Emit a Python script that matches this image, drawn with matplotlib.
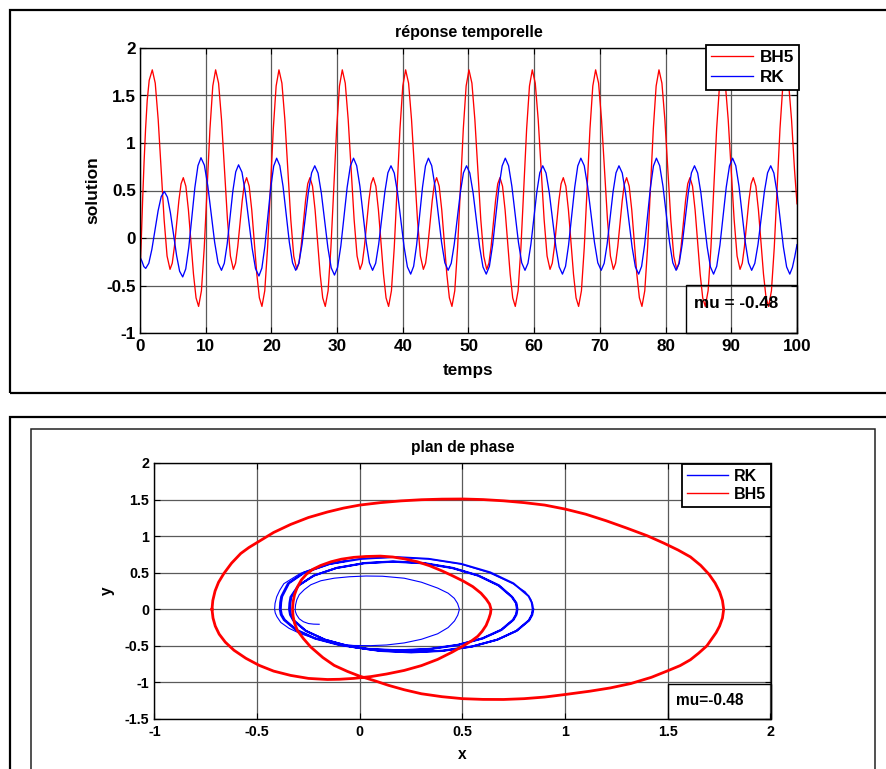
import matplotlib
matplotlib.use("Agg")
import matplotlib.pyplot as plt
from matplotlib.lines import Line2D
from matplotlib.patches import Rectangle

plt.rcParams['font.family'] = ['Liberation Sans', 'DejaVu Sans']
plt.rcParams['font.weight'] = 'bold'
plt.rcParams['axes.unicode_minus'] = False

# ---------------------------------------------------------------- data
series_top = ['BH5', 'RK']
series_bottom = ['RK', 'BH5']
mu_label_top = 'mu = -0.48'
mu_label_bottom = 'mu=-0.48'

time_ticks = [0, 10, 20, 30, 40, 50, 60, 70, 80, 90, 100]
time_tick_labels = ['0', '10', '20', '30', '40', '50', '60', '70', '80', '90', '100']
sol_ticks = [-1, -0.5, 0, 0.5, 1, 1.5, 2]
sol_tick_labels = ['-1', '-0.5', '0', '0.5', '1', '1.5', '2']
px_ticks = [-1, -0.5, 0, 0.5, 1, 1.5, 2]
px_tick_labels = ['-1', '-0.5', '0', '0.5', '1', '1.5', '2']
py_ticks = [-1.5, -1, -0.5, 0, 0.5, 1, 1.5, 2]
py_tick_labels = ['-1.5', '-1', '-0.5', '0', '0.5', '1', '1.5', '2']

# time response, BH5 scheme
bh5_t = [
    0.00, 0.18, 0.40, 0.62, 0.85, 1.10, 1.40,
    1.87, 2.32, 2.77, 3.22, 3.67, 4.12, 4.57, 4.91, 5.24, 5.58, 5.92, 6.25,
    6.59, 6.98, 7.37, 7.76, 8.14, 8.53, 8.92, 9.35, 9.78, 10.22, 10.65, 11.08,
    11.51, 11.96, 12.41, 12.86, 13.31, 13.76, 14.21, 14.55, 14.88, 15.22, 15.56, 15.89,
    16.23, 16.62, 17.01, 17.40, 17.78, 18.17, 18.56, 18.99, 19.42, 19.86, 20.29, 20.72,
    21.15, 21.60, 22.05, 22.50, 22.95, 23.40, 23.85, 24.19, 24.52, 24.86, 25.20, 25.53,
    25.87, 26.26, 26.65, 27.04, 27.42, 27.81, 28.20, 28.63, 29.06, 29.50, 29.93, 30.36,
    30.79, 31.24, 31.69, 32.14, 32.59, 33.04, 33.49, 33.83, 34.16, 34.50, 34.84, 35.17,
    35.51, 35.90, 36.29, 36.68, 37.06, 37.45, 37.84, 38.27, 38.70, 39.14, 39.57, 40.00,
    40.43, 40.88, 41.33, 41.78, 42.23, 42.68, 43.13, 43.47, 43.80, 44.14, 44.48, 44.81,
    45.15, 45.54, 45.93, 46.32, 46.70, 47.09, 47.48, 47.91, 48.34, 48.78, 49.21, 49.64,
    50.07, 50.52, 50.97, 51.42, 51.87, 52.32, 52.77, 53.11, 53.44, 53.78, 54.12, 54.45,
    54.79, 55.18, 55.57, 55.96, 56.34, 56.73, 57.12, 57.55, 57.98, 58.42, 58.85, 59.28,
    59.71, 60.16, 60.61, 61.06, 61.51, 61.96, 62.41, 62.75, 63.08, 63.42, 63.76, 64.09,
    64.43, 64.82, 65.21, 65.60, 65.98, 66.37, 66.76, 67.19, 67.62, 68.06, 68.49, 68.92,
    69.35, 69.80, 70.25, 70.70, 71.15, 71.60, 72.05, 72.39, 72.72, 73.06, 73.40, 73.73,
    74.07, 74.46, 74.85, 75.24, 75.62, 76.01, 76.40, 76.83, 77.26, 77.70, 78.13, 78.56,
    78.99, 79.44, 79.89, 80.34, 80.79, 81.24, 81.69, 82.03, 82.36, 82.70, 83.04, 83.37,
    83.71, 84.10, 84.49, 84.88, 85.26, 85.65, 86.04, 86.47, 86.90, 87.34, 87.77, 88.20,
    88.63, 89.08, 89.53, 89.98, 90.43, 90.88, 91.33, 91.67, 92.00, 92.34, 92.68, 93.01,
    93.35, 93.74, 94.13, 94.52, 94.90, 95.29, 95.68, 96.11, 96.54, 96.98, 97.41, 97.84,
    98.27, 98.72, 99.17, 99.62, 100.00,
]
bh5_x = [
    -0.35, -0.05, 0.40, 0.80, 1.15, 1.45, 1.66,
    1.77, 1.63, 1.245, 0.72, 0.195, -0.19, -0.33, -0.265, -0.09, 0.15, 0.395, 0.57,
    0.635, 0.545, 0.295, -0.04, -0.38, -0.63, -0.72, -0.555, -0.10, 0.525, 1.15, 1.60,
    1.77, 1.63, 1.245, 0.72, 0.195, -0.19, -0.33, -0.265, -0.09, 0.15, 0.395, 0.57,
    0.635, 0.545, 0.295, -0.04, -0.38, -0.63, -0.72, -0.555, -0.10, 0.525, 1.15, 1.60,
    1.77, 1.63, 1.245, 0.72, 0.195, -0.19, -0.33, -0.265, -0.09, 0.15, 0.395, 0.57,
    0.635, 0.545, 0.295, -0.04, -0.38, -0.63, -0.72, -0.555, -0.10, 0.525, 1.15, 1.60,
    1.77, 1.63, 1.245, 0.72, 0.195, -0.19, -0.33, -0.265, -0.09, 0.15, 0.395, 0.57,
    0.635, 0.545, 0.295, -0.04, -0.38, -0.63, -0.72, -0.555, -0.10, 0.525, 1.15, 1.60,
    1.77, 1.63, 1.245, 0.72, 0.195, -0.19, -0.33, -0.265, -0.09, 0.15, 0.395, 0.57,
    0.635, 0.545, 0.295, -0.04, -0.38, -0.63, -0.72, -0.555, -0.10, 0.525, 1.15, 1.60,
    1.77, 1.63, 1.245, 0.72, 0.195, -0.19, -0.33, -0.265, -0.09, 0.15, 0.395, 0.57,
    0.635, 0.545, 0.295, -0.04, -0.38, -0.63, -0.72, -0.555, -0.10, 0.525, 1.15, 1.60,
    1.77, 1.63, 1.245, 0.72, 0.195, -0.19, -0.33, -0.265, -0.09, 0.15, 0.395, 0.57,
    0.635, 0.545, 0.295, -0.04, -0.38, -0.63, -0.72, -0.555, -0.10, 0.525, 1.15, 1.60,
    1.77, 1.63, 1.245, 0.72, 0.195, -0.19, -0.33, -0.265, -0.09, 0.15, 0.395, 0.57,
    0.635, 0.545, 0.295, -0.04, -0.38, -0.63, -0.72, -0.555, -0.10, 0.525, 1.15, 1.60,
    1.77, 1.63, 1.245, 0.72, 0.195, -0.19, -0.33, -0.265, -0.09, 0.15, 0.395, 0.57,
    0.635, 0.545, 0.295, -0.04, -0.38, -0.63, -0.72, -0.555, -0.10, 0.525, 1.15, 1.60,
    1.77, 1.63, 1.245, 0.72, 0.195, -0.19, -0.33, -0.265, -0.09, 0.15, 0.395, 0.57,
    0.635, 0.545, 0.295, -0.04, -0.38, -0.63, -0.72, -0.555, -0.10, 0.525, 1.15, 1.60,
    1.77, 1.63, 1.245, 0.72, 0.36,
]

# time response, RK scheme
rk_t = [
    0.00, 0.30, 0.58, 0.87,
    1.34, 1.81, 2.29, 2.76, 3.23, 3.70,
    4.17, 4.63, 5.10, 5.57, 6.03, 6.50,
    6.96, 7.43, 7.89, 8.35, 8.82, 9.28,
    9.80, 10.32, 10.84, 11.36, 11.88, 12.40,
    12.83, 13.27, 13.70, 14.13, 14.57, 15.00,
    15.52, 16.03, 16.55, 17.07, 17.58, 18.10,
    18.55, 19.00, 19.45, 19.90, 20.35, 20.80,
    21.28, 21.77, 22.25, 22.73, 23.22, 23.70,
    24.18, 24.67, 25.15, 25.63, 26.12, 26.60,
    27.10, 27.60, 28.10, 28.60, 29.10, 29.60,
    30.08, 30.57, 31.05, 31.53, 32.02, 32.50,
    32.98, 33.47, 33.95, 34.43, 34.92, 35.40,
    35.87, 36.33, 36.80, 37.27, 37.73, 38.20,
    38.70, 39.20, 39.70, 40.20, 40.70, 41.20,
    41.65, 42.10, 42.55, 43.00, 43.45, 43.90,
    44.40, 44.90, 45.40, 45.90, 46.40, 46.90,
    47.37, 47.83, 48.30, 48.77, 49.23, 49.70,
    50.20, 50.70, 51.20, 51.70, 52.20, 52.70,
    53.18, 53.67, 54.15, 54.63, 55.12, 55.60,
    56.10, 56.60, 57.10, 57.60, 58.10, 58.60,
    59.05, 59.50, 59.95, 60.40, 60.85, 61.30,
    61.80, 62.30, 62.80, 63.30, 63.80, 64.30,
    64.77, 65.23, 65.70, 66.17, 66.63, 67.10,
    67.62, 68.13, 68.65, 69.17, 69.68, 70.20,
    70.65, 71.10, 71.55, 72.00, 72.45, 72.90,
    73.40, 73.90, 74.40, 74.90, 75.40, 75.90,
    76.35, 76.80, 77.25, 77.70, 78.15, 78.60,
    79.10, 79.60, 80.10, 80.60, 81.10, 81.60,
    82.07, 82.53, 83.00, 83.47, 83.93, 84.40,
    84.88, 85.37, 85.85, 86.33, 86.82, 87.30,
    87.78, 88.27, 88.75, 89.23, 89.72, 90.20,
    90.68, 91.17, 91.65, 92.13, 92.62, 93.10,
    93.58, 94.07, 94.55, 95.03, 95.52, 96.00,
    96.48, 96.97, 97.45, 97.93, 98.42, 98.90,
    99.30, 99.65, 100.00,
]
rk_x = [
    -0.20, -0.245, -0.30, -0.32,
    -0.266, -0.118, 0.085, 0.288, 0.436, 0.49,
    0.430, 0.265, 0.04, -0.185, -0.350, -0.41,
    -0.326, -0.096, 0.218, 0.531, 0.761, 0.845,
    0.766, 0.549, 0.253, -0.044, -0.261, -0.34,
    -0.266, -0.063, 0.215, 0.493, 0.696, 0.77,
    0.692, 0.478, 0.185, -0.108, -0.322, -0.40,
    -0.317, -0.09, 0.22, 0.53, 0.757, 0.84,
    0.761, 0.545, 0.25, -0.045, -0.261, -0.34,
    -0.266, -0.065, 0.21, 0.485, 0.686, 0.76,
    0.683, 0.473, 0.185, -0.103, -0.313, -0.39,
    -0.308, -0.083, 0.225, 0.533, 0.758, 0.84,
    0.761, 0.545, 0.25, -0.045, -0.261, -0.34,
    -0.266, -0.065, 0.21, 0.485, 0.686, 0.76,
    0.684, 0.475, 0.19, -0.095, -0.304, -0.38,
    -0.298, -0.075, 0.23, 0.535, 0.758, 0.84,
    0.761, 0.545, 0.25, -0.045, -0.261, -0.34,
    -0.266, -0.065, 0.21, 0.485, 0.686, 0.76,
    0.684, 0.475, 0.19, -0.095, -0.304, -0.38,
    -0.298, -0.075, 0.23, 0.535, 0.758, 0.84,
    0.761, 0.545, 0.25, -0.045, -0.261, -0.34,
    -0.266, -0.065, 0.21, 0.485, 0.686, 0.76,
    0.684, 0.475, 0.19, -0.095, -0.304, -0.38,
    -0.298, -0.075, 0.23, 0.535, 0.758, 0.84,
    0.761, 0.545, 0.25, -0.045, -0.261, -0.34,
    -0.266, -0.065, 0.21, 0.485, 0.686, 0.76,
    0.684, 0.475, 0.19, -0.095, -0.304, -0.38,
    -0.298, -0.075, 0.23, 0.535, 0.758, 0.84,
    0.761, 0.545, 0.25, -0.045, -0.261, -0.34,
    -0.266, -0.065, 0.21, 0.485, 0.686, 0.76,
    0.684, 0.475, 0.19, -0.095, -0.304, -0.38,
    -0.298, -0.075, 0.23, 0.535, 0.758, 0.84,
    0.761, 0.545, 0.25, -0.045, -0.261, -0.34,
    -0.266, -0.065, 0.21, 0.485, 0.686, 0.76,
    0.684, 0.475, 0.19, -0.095, -0.304, -0.38,
    -0.31, -0.20, -0.07,
]

# phase plane, BH5 closed orbit (x, y)
bh5_px = [
    -0.72, -0.716, -0.705, -0.688, -0.662, -0.625, -0.58, -0.54, -0.496, -0.42,
    -0.337, -0.25, -0.158, -0.08, 0.0, 0.1, 0.2, 0.3, 0.4, 0.504,
    0.6, 0.70, 0.80, 0.90, 1.00, 1.10, 1.20, 1.30, 1.40, 1.48,
    1.55, 1.61, 1.66, 1.70, 1.73, 1.752, 1.766,
    1.772, 1.766, 1.752, 1.735, 1.71, 1.69, 1.65, 1.61, 1.56, 1.50,
    1.42, 1.32, 1.22, 1.12, 1.00, 0.90, 0.80, 0.70, 0.60, 0.50,
    0.40, 0.30, 0.216, 0.14, 0.07, 0.0, -0.06, -0.125, -0.18, -0.239,
    -0.275, -0.304, -0.318, -0.325,
    -0.328, -0.325, -0.318, -0.305, -0.285, -0.26, -0.23, -0.19, -0.14, -0.09,
    -0.03, 0.03, 0.10, 0.16, 0.216, 0.28, 0.34, 0.40, 0.45, 0.504,
    0.55, 0.59, 0.615, 0.632,
    0.639, 0.636, 0.628, 0.615, 0.596, 0.574, 0.545, 0.504, 0.45, 0.379,
    0.30, 0.216, 0.13, 0.054, -0.03, -0.10, -0.158, -0.25, -0.337, -0.42,
    -0.49, -0.555, -0.613, -0.655, -0.685, -0.704, -0.715, -0.72,
]
bh5_py = [
    0.0, 0.12, 0.25, 0.37, 0.49, 0.63, 0.763, 0.845, 0.92, 1.05,
    1.16, 1.255, 1.33, 1.383, 1.425, 1.458, 1.482, 1.498, 1.506, 1.508,
    1.50, 1.483, 1.458, 1.425, 1.37, 1.30, 1.21, 1.11, 1.005, 0.905,
    0.81, 0.716, 0.60, 0.48, 0.36, 0.24, 0.12,
    0.0, -0.12, -0.23, -0.32, -0.42, -0.50, -0.60, -0.69, -0.77, -0.84,
    -0.93, -1.015, -1.075, -1.12, -1.165, -1.20, -1.222, -1.233, -1.232, -1.222,
    -1.195, -1.155, -1.10, -1.04, -0.975, -0.915, -0.85, -0.767, -0.66, -0.516,
    -0.40, -0.29, -0.19, -0.095,
    0.0, 0.10, 0.20, 0.30, 0.40, 0.48, 0.545, 0.60, 0.65, 0.685,
    0.71, 0.722, 0.727, 0.715, 0.69, 0.65, 0.595, 0.525, 0.46, 0.385,
    0.31, 0.22, 0.14, 0.07,
    0.0, -0.06, -0.13, -0.22, -0.30, -0.37, -0.43, -0.50, -0.585, -0.685,
    -0.77, -0.836, -0.885, -0.92, -0.945, -0.957, -0.96, -0.945, -0.904, -0.845,
    -0.767, -0.67, -0.56, -0.45, -0.34, -0.23, -0.12, 0.0,
]

# phase plane, RK start-up transient (x, y)
rk_start_px = [
    -0.198, -0.225, -0.25, -0.275, -0.295, -0.308, -0.314, -0.315, -0.313, -0.307,
    -0.295, -0.27, -0.239, -0.19, -0.125, -0.05, 0.03, 0.11, 0.216, 0.30,
    0.379, 0.43, 0.46, 0.476, 0.485, 0.477, 0.461, 0.43, 0.379, 0.30,
    0.216, 0.13, 0.054, -0.03, -0.11, -0.20, -0.288, -0.345, -0.385, -0.404,
    -0.412, -0.415, -0.413, -0.405, -0.39, -0.37, -0.29, -0.16, 0.0, 0.16,
    0.33, 0.49, 0.63, 0.745, 0.805, 0.832, 0.842, 0.845,
]
rk_start_py = [
    -0.205, -0.203, -0.195, -0.17, -0.13, -0.075, -0.03, 0.0, 0.06, 0.13,
    0.20, 0.27, 0.335, 0.39, 0.425, 0.445, 0.455, 0.452, 0.425, 0.37,
    0.29, 0.22, 0.15, 0.08, 0.0, -0.08, -0.16, -0.25, -0.335, -0.41,
    -0.46, -0.488, -0.497, -0.495, -0.47, -0.415, -0.335, -0.26, -0.18, -0.10,
    -0.05, 0.0, 0.08, 0.17, 0.26, 0.35, 0.49, 0.625, 0.69, 0.71,
    0.69, 0.62, 0.50, 0.35, 0.24, 0.14, 0.07, 0.0,
]

# phase plane, RK settled two-loop cycle (x, y)
rk_cycle_px = [
    0.845, 0.840, 0.825, 0.765, 0.671, 0.548, 0.404, 0.25, 0.096, -0.048,
    -0.171, -0.265, -0.325, -0.340, -0.345,
    -0.343, -0.338, -0.30, -0.225, -0.115, 0.02, 0.16, 0.31, 0.45, 0.575,
    0.675, 0.74, 0.760, 0.765,
    0.760, 0.745, 0.688, 0.597, 0.478, 0.339, 0.19, 0.041, -0.098, -0.217,
    -0.308, -0.365, -0.380, -0.385,
    -0.383, -0.378, -0.345, -0.27, -0.145, 0.01, 0.17, 0.335, 0.495, 0.635,
    0.748, 0.822, 0.837, 0.842,
    0.837, 0.822, 0.762, 0.668, 0.545, 0.402, 0.25, 0.097, -0.045, -0.168,
    -0.262, -0.32, -0.335, -0.34,
    -0.338, -0.333, -0.296, -0.222, -0.112, 0.023, 0.163, 0.312, 0.452, 0.577,
    0.678, 0.742, 0.763, 0.768,
    0.763, 0.748, 0.69, 0.598, 0.478, 0.34, 0.19, 0.04, -0.10, -0.22,
    -0.312, -0.37, -0.385, -0.39,
    -0.388, -0.383, -0.35, -0.275, -0.15, -0.07,
]
rk_cycle_py = [
    0.0, -0.076, -0.152, -0.293, -0.414, -0.507, -0.565, -0.585, -0.565, -0.507,
    -0.414, -0.293, -0.152, -0.076, 0.0,
    0.085, 0.168, 0.325, 0.46, 0.563, 0.628, 0.65, 0.628, 0.563, 0.46,
    0.325, 0.168, 0.085, 0.0,
    -0.073, -0.145, -0.28, -0.396, -0.485, -0.541, -0.56, -0.541, -0.485, -0.396,
    -0.28, -0.145, -0.073, 0.0,
    0.093, 0.175, 0.355, 0.50, 0.62, 0.69, 0.715, 0.69, 0.62, 0.505,
    0.355, 0.18, 0.093, 0.0,
    -0.077, -0.153, -0.295, -0.417, -0.511, -0.57, -0.59, -0.57, -0.511, -0.417,
    -0.295, -0.153, -0.077, 0.0,
    0.085, 0.17, 0.328, 0.463, 0.567, 0.633, 0.655, 0.633, 0.567, 0.463,
    0.328, 0.17, 0.085, 0.0,
    -0.074, -0.146, -0.283, -0.4, -0.489, -0.546, -0.565, -0.546, -0.489, -0.4,
    -0.283, -0.146, -0.074, 0.0,
    0.093, 0.175, 0.355, 0.50, 0.62, 0.66,
]

# ---------------------------------------------------------------- figure
W, H = 887, 769
fig = plt.figure(figsize=(W / 100, H / 100), dpi=100)
RED, BLUE = '#ff0000', '#0000ff'
GRID = '#5a5a5a'


def box(left, top, right, bottom):
    """Figure-fraction rectangle from pixel edges (origin top-left)."""
    return [left / W, 1 - bottom / H, (right - left) / W, (bottom - top) / H]


def style_axes(ax, fs, xpad, ypad):
    ax.grid(True, color=GRID, lw=0.9, ls='-')
    ax.set_axisbelow(True)
    ax.tick_params(direction='in', length=4, width=0.8, top=True, right=True,
                   labelsize=fs, colors='black')
    ax.tick_params(axis='x', pad=xpad)
    ax.tick_params(axis='y', pad=ypad)
    for sp in ax.spines.values():
        sp.set_linewidth(1.0)
        sp.set_color('black')
    for lab in ax.get_xticklabels() + ax.get_yticklabels():
        lab.set_fontweight('bold')


# panel frames
fig.add_artist(Rectangle((10 / W, 1 - 393 / H), 0.99, 383 / H, transform=fig.transFigure,
                         fill=False, ec='black', lw=1.6))
fig.add_artist(Rectangle((10 / W, -0.02), 0.99, 1 - 417 / H + 0.02, transform=fig.transFigure,
                         fill=False, ec='black', lw=1.6))
fig.add_artist(Rectangle((31 / W, -0.02), (875 - 31) / W, 1 - 429 / H + 0.02,
                         transform=fig.transFigure, fill=False, ec='#222222', lw=1.1))

# ---- time response
ax1 = fig.add_axes(box(140, 48, 797, 333))
ax1.plot(bh5_t, bh5_x, color=RED, lw=0.95)
ax1.plot(rk_t, rk_x, color=BLUE, lw=0.95)
ax1.set_xlim(0, 100)
ax1.set_ylim(-1, 2)
ax1.set_xticks(time_ticks)
ax1.set_xticklabels(time_tick_labels)
ax1.set_yticks(sol_ticks)
ax1.set_yticklabels(sol_tick_labels)
style_axes(ax1, 12.3, 4.3, 3.0)
ax1.set_title('réponse temporelle', fontsize=11.5, fontweight='bold', y=1 + 11 / 285, pad=0,
              va='baseline')
ax1.set_xlabel('temps', fontsize=12.3, fontweight='bold')
ax1.xaxis.set_label_coords(0.5, -(375 - 333) / 285)
ax1.xaxis.label.set_va('baseline')
ax1.set_ylabel('solution', fontsize=12.5, fontweight='bold')
ax1.yaxis.set_label_coords(-(140 - 97) / 657, 0.5)
ax1.yaxis.label.set_va('baseline')

leg1 = ax1.legend(handles=[Line2D([], [], color=RED, lw=0.95), Line2D([], [], color=BLUE, lw=0.95)],
                  labels=series_top, loc='upper right', bbox_to_anchor=(1.003, 1.0105),
                  borderaxespad=0, fancybox=False, framealpha=1, edgecolor='black',
                  prop=dict(weight='bold', size=12.3), handlelength=2.5, handletextpad=0.35,
                  labelspacing=0.3, borderpad=0.3)
leg1.get_frame().set_linewidth(1.3)

ax1.add_patch(Rectangle((0.831, 0), 0.169, 0.1684, transform=ax1.transAxes, fill=False,
                        ec='black', lw=1.0, clip_on=False, zorder=5))
ax1.text(0.843, 0.0867, mu_label_top, transform=ax1.transAxes, fontsize=12.3,
         fontweight='bold', va='baseline', ha='left', zorder=6)

# ---- phase plane
ax2 = fig.add_axes(box(154.5, 463, 770.5, 719))
ax2.plot(rk_start_px, rk_start_py, color=BLUE, lw=0.8)
ax2.plot(rk_cycle_px, rk_cycle_py, color=BLUE, lw=1.4)
ax2.plot(bh5_px, bh5_py, color=RED, lw=2.0)
ax2.set_xlim(-1, 2)
ax2.set_ylim(-1.5, 2)
ax2.set_xticks(px_ticks)
ax2.set_xticklabels(px_tick_labels)
ax2.set_yticks(py_ticks)
ax2.set_yticklabels(py_tick_labels)
style_axes(ax2, 10.3, 4.5, 3.6)
ax2.set_title('plan de phase', fontsize=11.2, fontweight='bold', y=1 + 11 / 256, pad=0,
              va='baseline')
ax2.set_xlabel('x', fontsize=11.2, fontweight='bold')
ax2.xaxis.set_label_coords(0.5, -(759 - 719) / 256)
ax2.xaxis.label.set_va('baseline')
ax2.set_ylabel('y', fontsize=11.2, fontweight='bold')
ax2.yaxis.set_label_coords(-(154.5 - 112) / 616, 0.5)
ax2.yaxis.label.set_va('baseline')

leg2 = ax2.legend(handles=[Line2D([], [], color=BLUE, lw=1.0), Line2D([], [], color=RED, lw=1.0)],
                  labels=series_bottom, loc='upper right', bbox_to_anchor=(1.0008, 0.996),
                  borderaxespad=0, fancybox=False, framealpha=1, edgecolor='black',
                  prop=dict(weight='bold', size=11.5), handlelength=2.6, handletextpad=0.35,
                  labelspacing=0.2, borderpad=0.3)
leg2.get_frame().set_linewidth(1.3)

ax2.add_patch(Rectangle((0.8336, 0), 0.1664, 0.1367, transform=ax2.transAxes, fill=False,
                        ec='black', lw=1.0, clip_on=False, zorder=5))
ax2.text(0.846, 0.0547, mu_label_bottom, transform=ax2.transAxes, fontsize=11.2,
         fontweight='bold', va='baseline', ha='left', zorder=6)

fig.savefig('out.png', dpi=100)
